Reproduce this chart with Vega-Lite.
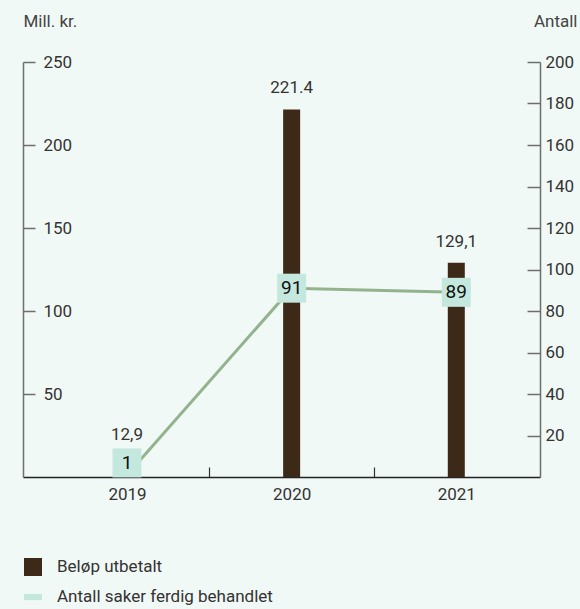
{
  "$schema": "https://vega.github.io/schema/vega-lite/v6.json",
  "autosize": "none",
  "width": 517,
  "height": 415,
  "padding": {"left": 23, "top": 62, "right": 40, "bottom": 132},
  "background": "#f1f9f6",
  "config": {
    "view": {"stroke": null},
    "font": "Roboto",
    "axis": {"labelFont": "Roboto", "titleFont": "Roboto", "labelColor": "#333333", "titleColor": "#444444", "grid": false}
  },
  "data": {"values": [
    {"year": "2019", "belop": 12.9, "belopLabel": "12,9", "antall": 1, "serie": "Beløp utbetalt"},
    {"year": "2020", "belop": 221.4, "belopLabel": "221.4", "antall": 91, "serie": "Beløp utbetalt"},
    {"year": "2021", "belop": 129.1, "belopLabel": "129,1", "antall": 89, "serie": "Beløp utbetalt"}
  ]},
  "encoding": {
    "x": {
      "field": "year", "type": "nominal",
      "scale": {"paddingInner": 0, "paddingOuter": 0.07, "align": 0.94},
      "axis": {
        "title": null, "labelAngle": 0, "labelFontSize": 17, "labelPadding": 19,
        "domainColor": "#222222", "domainWidth": 1.5,
        "tickBand": "extent", "tickSize": -10, "tickOffset": -5,
        "tickOpacity": {"condition": {"test": "datum.extra || datum.value == '2021'", "value": 0}, "value": 1},
        "tickColor": "#333333",
        "tickWidth": 1.2
      }
    }
  },
  "layer": [
    {
      "encoding": {
        "y": {
          "field": "belop", "type": "quantitative",
          "scale": {"domain": [0, 250], "nice": false},
          "axis": {
            "orient": "left", "values": [50, 100, 150, 200, 250],
            "title": "Mill. kr.", "titleAngle": 0, "titleAlign": "left", "titleBaseline": "alphabetic",
            "titleX": 0, "titleY": -36, "titleFontSize": 17, "titleFontWeight": "normal",
            "tickSize": -12, "labelPadding": -8, "labelAlign": "left", "labelFontSize": 17,
            "domainColor": "#6e6e6e", "domainWidth": 1.5, "tickColor": "#6e6e6e", "tickWidth": 1.5
          }
        }
      },
      "layer": [
        {
          "mark": {"type": "bar", "size": 17},
          "encoding": {
            "color": {
              "field": "serie", "type": "nominal",
              "scale": {"domain": ["Beløp utbetalt", "Antall saker ferdig behandlet"], "range": ["#3d2917", "#c5e8de"]},
              "legend": {
                "title": null, "orient": "none", "legendX": 1, "legendY": 496, "direction": "vertical",
                "symbolType": "square", "symbolSize": 324, "symbolStrokeWidth": 0,
                "labelFontSize": 17, "labelColor": "#333333", "labelOffset": 15, "rowPadding": 12, "padding": 0,
                "labelLimit": 500, "symbolOpacity": 1,
                "encode": {"symbols": {"update": {
                  "shape": {"signal": "datum.value == 'Beløp utbetalt' ? 'square' : 'M-1,-0.35H1V0.35H-1Z'"},
                  "fill": {"signal": "datum.value == 'Beløp utbetalt' ? '#3d2917' : '#c5e8de'"}
                }}}
              }
            }
          }
        },
        {
          "mark": {"type": "text", "baseline": "bottom", "dy": -12, "fontSize": 17, "color": "#333333"},
          "encoding": {"text": {"field": "belopLabel"}}
        }
      ]
    },
    {
      "encoding": {
        "y": {
          "field": "antall", "type": "quantitative",
          "scale": {"domain": [0, 200], "nice": false},
          "axis": {
            "orient": "right", "values": [20, 40, 60, 80, 100, 120, 140, 160, 180, 200],
            "title": "Antall", "titleAngle": 0, "titleAlign": "right", "titleBaseline": "alphabetic",
            "titleX": 37, "titleY": -36, "titleFontSize": 17, "titleFontWeight": "normal",
            "tickSize": -13, "labelPadding": 18, "labelAlign": "left", "labelFontSize": 17,
            "domainColor": "#6e6e6e", "domainWidth": 1.5, "tickColor": "#6e6e6e", "tickWidth": 1.5
          }
        }
      },
      "layer": [
        {"mark": {"type": "line", "color": "#93b38f", "strokeWidth": 3}},
        {
          "transform": [{"filter": "datum.year != '2019'"}],
          "mark": {"type": "point", "shape": "square", "filled": true, "size": 841, "color": "#c5e8de", "opacity": 1}
        },
        {
          "transform": [{"filter": "datum.year != '2019'"}],
          "mark": {"type": "text", "fontSize": 19, "color": "#111111"},
          "encoding": {"text": {"field": "antall"}}
        },
        {
          "transform": [{"filter": "datum.year == '2019'"}],
          "mark": {"type": "point", "shape": "square", "filled": true, "size": 841, "color": "#c5e8de", "opacity": 1, "yOffset": -12}
        },
        {
          "transform": [{"filter": "datum.year == '2019'"}],
          "mark": {"type": "text", "fontSize": 19, "color": "#111111", "dy": -12},
          "encoding": {"text": {"field": "antall"}}
        }
      ]
    }
  ],
  "resolve": {"scale": {"y": "independent"}}
}
